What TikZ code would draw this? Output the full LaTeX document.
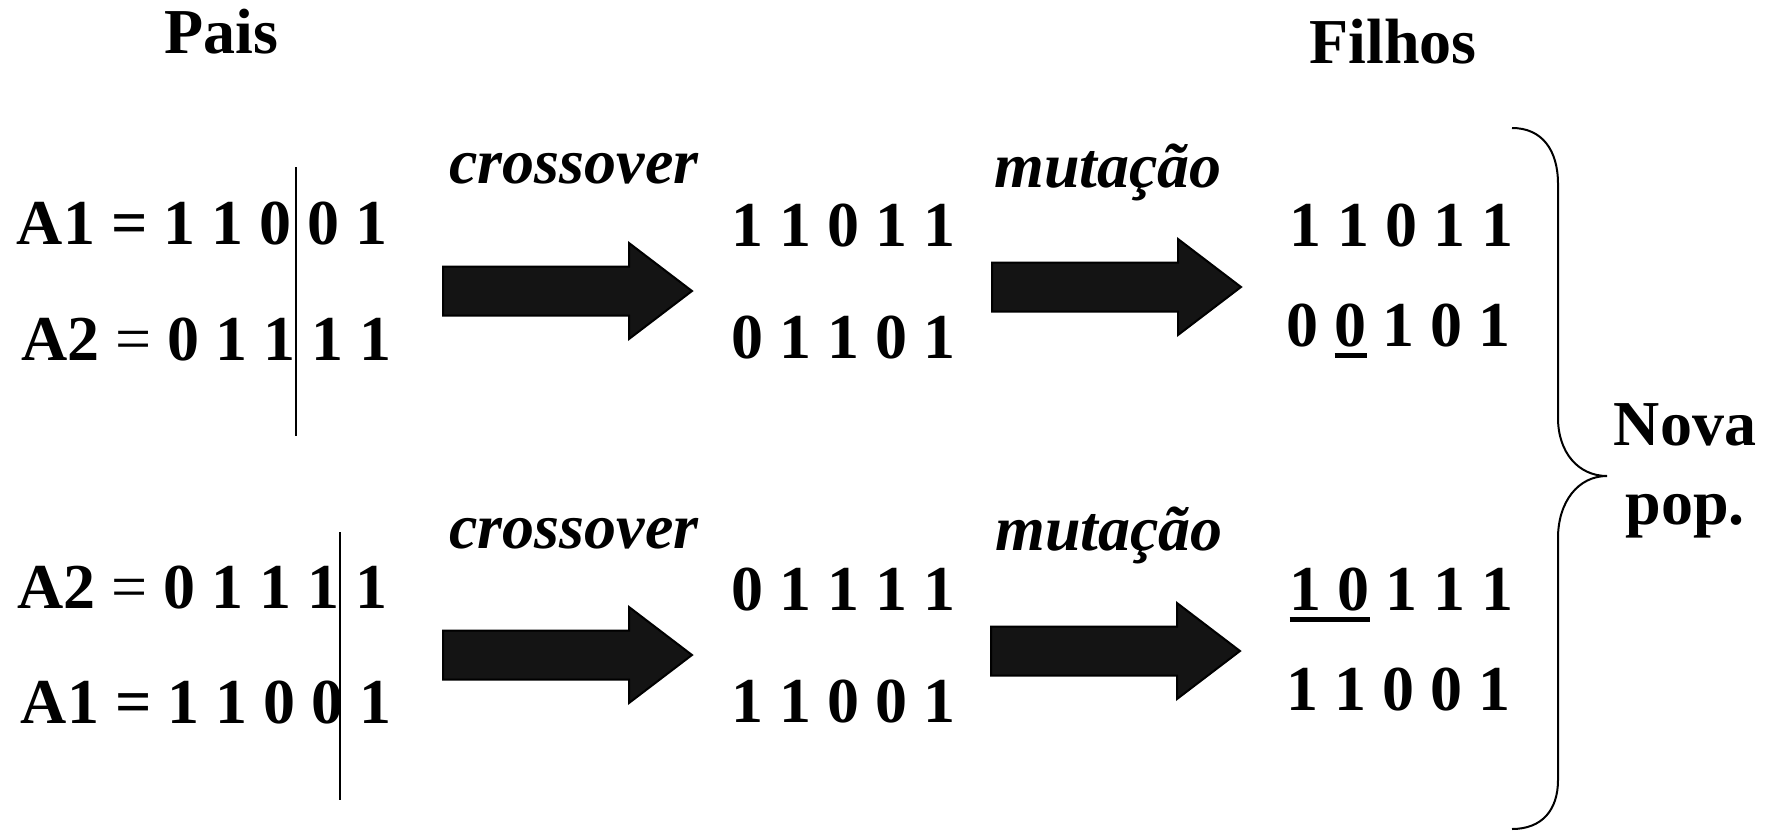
\documentclass[tikz,border=0pt]{standalone}
\usepackage{fontspec}
\setmainfont{Liberation Serif}
% underline for a mutated gene
\newcommand\mutbit[1]{\leavevmode\setbox0\hbox{#1}\rlap{\rule[-6pt]{\wd0}{2.7pt}}\box0\relax}
\newcommand\eqreg{\textmd{=}}
\begin{document}
\begin{tikzpicture}[x=0.5pt,y=-0.5pt,
  bits/.style={font=\fontsize{32}{38}\selectfont\bfseries, inner sep=0, anchor=base east},
  title/.style={font=\fontsize{32}{38}\selectfont\bfseries, inner sep=0, anchor=base},
  oper/.style={font=\fontsize{32}{38}\selectfont\bfseries\itshape, inner sep=0, anchor=base},
  cutline/.style={line width=1pt},
  bracket/.style={line width=1pt},
  arrowbody/.style={fill={rgb,255:red,20;green,20;blue,20}, draw=black, line width=1pt, line join=miter},
  fatarrow/.pic={\path[arrowbody] (0,-24.5) -- (186,-24.5) -- (186,-48) -- (249,0) -- (186,48) -- (186,24.5) -- (0,24.5) -- cycle;}
]
\useasboundingbox (0,0) rectangle (1777,830);

% headings
\node[title] (pais) at (221,54) {Pais};
\node[title] (filhos) at (1393,63) {Filhos};

% parents, first pair
\node[bits] (p1a) at (388,244) {A1 = 1 1 0 0 1};
\node[bits] (p1b) at (392,360) {A2 \eqreg{} 0 1 1 1 1};
\draw[cutline] (296,167) -- (296,436);

% parents, second pair
\node[bits] (p2a) at (388,608) {A2 \eqreg{} 0 1 1 1 1};
\node[bits] (p2b) at (392,723) {A1 = 1 1 0 0 1};
\draw[cutline] (340,532) -- (340,800);

% operator labels
\node[oper] (cx1) at (574,183) {crossover};
\node[oper] (cx2) at (574,548) {crossover};
\node[oper] (mu1) at (1108,187) {mutação};
\node[oper] (mu2) at (1109,550) {mutação};

% block arrows
\pic at (443,291) {fatarrow};
\pic at (992,287) {fatarrow};
\pic at (443,655) {fatarrow};
\pic at (991,651) {fatarrow};

% offspring after crossover
\node[bits] (c1a) at (956,246) {1 1 0 1 1};
\node[bits] (c1b) at (956,358) {0 1 1 0 1};
\node[bits] (c2a) at (956,610) {0 1 1 1 1};
\node[bits] (c2b) at (956,722) {1 1 0 0 1};

% offspring after mutation
\node[bits] (m1a) at (1514,246) {1 1 0 1 1};
\node[bits] (m1b) at (1511,346) {0 \mutbit{0} 1 0 1};
\node[bits] (m2a) at (1514,610) {\mutbit{1 0} 1 1 1};
\node[bits] (m2b) at (1511,710) {1 1 0 0 1};

% brace gathering the new population
\draw[bracket] (1512,128) .. controls (1542,128) and (1558,150) .. (1558,184)
  -- (1558,418) .. controls (1558,452) and (1578,476) .. (1607,476)
  .. controls (1578,476) and (1558,502) .. (1558,538)
  -- (1558,780) .. controls (1558,810) and (1542,829) .. (1512,829);

\node[title] (nova) at (1685,445) {Nova};
\node[title] (pop) at (1685,524) {pop.};
\end{tikzpicture}
\end{document}
